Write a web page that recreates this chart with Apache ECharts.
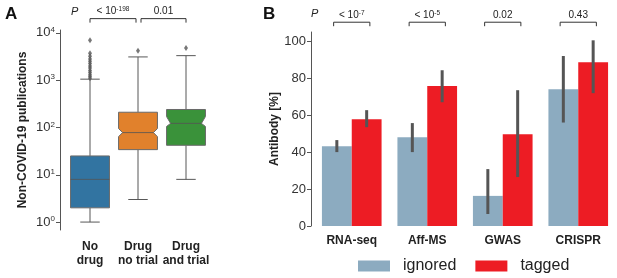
<!DOCTYPE html>
<html>
<head>
<meta charset="utf-8">
<script src="https://cdn.jsdelivr.net/npm/echarts@6/dist/echarts.min.js"></script>
<style>
  html, body { margin: 0; padding: 0; background: #fff; }
  #chart { width: 617px; height: 278px; }
</style>
</head>
<body>
<div id="chart"></div>
<script>
(function () {
  "use strict";
  const chart = echarts.init(document.getElementById("chart"));
  const FONT = "Liberation Sans, Arial, sans-serif";

  // Panel A: box plots (log scale)
  const groupsA = ["No\ndrug", "Drug\nno trial", "Drug\nand trial"];
  const colorsA = ["#3274a1", "#e1812c", "#3a923a"];
  // [low whisker, q1, median, q3, high whisker]
  const boxStats = [
    [1, 2, 8, 25, 1050],
    [3, 34, 78, 210, 3100],
    [8, 42, 122, 240, 3300],
  ];
  // notch limits [lo, hi] (null = no visible notch)
  const notches = [null, [64, 95], [105, 170]];
  const outliersA = [
    [1100, 1200, 1300, 1450, 1600, 1800, 2000, 2250, 2500, 2800, 3200, 3700, 7000],
    [4200],
    [4800],
  ];
  const ticksA = [1, 10, 100, 1000, 10000];
  const pLabelsA = [["< 10", "-198"], ["0.01", ""]];

  // Panel B: grouped bars with error bars
  const groupsB = ["RNA-seq", "Aff-MS", "GWAS", "CRISPR"];
  const ignored = [43.2, 48, 16.3, 74];
  const tagged = [57.8, 75.8, 49.7, 88.6];
  const ignoredErr = [[40, 46.5], [40, 55.7], [6.5, 30.8], [56, 92]];
  const taggedErr = [[53.5, 62.7], [67, 84.3], [26.5, 73.5], [71.9, 100.5]];
  const ticksB = [0, 20, 40, 60, 80, 100];
  const pLabelsB = [["< 10", "-7"], ["< 10", "-5"], ["0.02", ""], ["0.43", ""]];

  const BAR_FRAC = 0.395;

  function boxItem(params, api) {
    const i = api.value(0);
    const c = api.coord([i, api.value(1)]);
    const band = api.size([1, 1])[0];
    const w = band * 0.81;
    const l = c[0] - w / 2, r = c[0] + w / 2;
    const y = k => api.coord([i, api.value(k)])[1];
    const yLow = y(1), yQ1 = y(2), yMed = y(3), yQ3 = y(4), yHigh = y(5);
    const hasNotch = api.value(6) > 0;
    const d = hasNotch ? 4 : 0;
    const yNLo = hasNotch ? y(6) : yMed, yNHi = hasNotch ? y(7) : yMed;
    const pts = hasNotch
      ? [[l, yQ3], [r, yQ3], [r, yNHi], [r - d, yMed], [r, yNLo], [r, yQ1], [l, yQ1], [l, yNLo], [l + d, yMed], [l, yNHi]]
      : [[l, yQ3], [r, yQ3], [r, yQ1], [l, yQ1]];
    const line = { stroke: "#575757", lineWidth: 1 };
    const cap = w / 4;
    return {
      type: "group",
      children: [
        { type: "line", shape: { x1: c[0], y1: yQ3, x2: c[0], y2: yHigh }, style: line },
        { type: "line", shape: { x1: c[0], y1: yQ1, x2: c[0], y2: yLow }, style: line },
        { type: "line", shape: { x1: c[0] - cap, y1: yHigh, x2: c[0] + cap, y2: yHigh }, style: line },
        { type: "line", shape: { x1: c[0] - cap, y1: yLow, x2: c[0] + cap, y2: yLow }, style: line },
        { type: "polygon", shape: { points: pts }, style: { fill: colorsA[i], stroke: "#6a6a6a", lineWidth: 1 } },
        { type: "line", shape: { x1: l + d, y1: yMed, x2: r - d, y2: yMed }, style: { stroke: "#555", lineWidth: 1, opacity: 0.8 } },
      ],
    };
  }

  function bracketItem(shrinkL, shrinkR, span) {
    return function (params, api) {
      const a = api.value(0), b = api.value(1), lvl = api.value(2);
      const band = api.size([1, 1])[0];
      const pa = api.coord([a, lvl]), pb = api.coord([b, lvl]);
      let x1 = pa[0], x2 = pb[0];
      if (span) { x1 = pa[0] - band * span; x2 = pa[0] + band * span; }
      x1 += shrinkL[params.dataIndex] || 0;
      x2 -= shrinkR[params.dataIndex] || 0;
      const yb = pa[1];
      const st = { stroke: "#333", lineWidth: 1, fill: null };
      return {
        type: "group",
        children: [
          { type: "polyline", shape: { points: [[x1, yb + 4], [x1, yb], [x2, yb], [x2, yb + 4]] }, style: st },
          {
            type: "text", x: (x1 + x2) / 2, y: yb - 7,
            style: {
              text: api.value(3) ? `${api.value(3)}{s|${api.value(4) || ""}}` : "",
              rich: { s: { fontSize: 6.5, fontFamily: FONT, fill: "#222", verticalAlign: "top", padding: [0, 0, 5, 0] } },
              fontSize: 10, fontFamily: FONT, fill: "#222", align: "center", verticalAlign: "middle",
            },
          },
        ],
      };
    };
  }

  function errItem(side) {
    return function (params, api) {
      const i = api.value(0);
      const band = api.size([1, 1])[0];
      const off = side * band * BAR_FRAC / 2;
      const p1 = api.coord([i, api.value(1)]), p2 = api.coord([i, api.value(2)]);
      return {
        type: "line",
        shape: { x1: p1[0] + off, y1: p1[1], x2: p2[0] + off, y2: p2[1] },
        style: { stroke: "#555", lineWidth: 3 },
      };
    };
  }

  const boxData = boxStats.map((s, i) => [i, ...s, notches[i] ? notches[i][0] : 0, notches[i] ? notches[i][1] : 0]);
  const outlierData = [];
  outliersA.forEach((arr, i) => arr.forEach(v => outlierData.push([i, v])));

  const supFmt = v => `10{s|${Math.round(Math.log10(v))}}`;

  chart.setOption({
    animation: false,
    textStyle: { fontFamily: FONT },
    grid: [
      { left: 66, top: 30, width: 144, height: 200 },
      { left: 314, top: 32, width: 302, height: 194 },
    ],
    xAxis: [
      {
        gridIndex: 0, type: "category", data: groupsA,
        axisLine: { show: false }, axisTick: { show: false },
        axisLabel: { fontSize: 12, fontWeight: "bold", color: "#222", lineHeight: 14, margin: 10, interval: 0 },
      },
      {
        gridIndex: 1, type: "category", data: groupsB,
        axisLine: { show: false }, axisTick: { show: false },
        axisLabel: { fontSize: 12, fontWeight: "bold", color: "#222", margin: 9, interval: 0 },
      },
    ],
    yAxis: [
      {
        gridIndex: 0, type: "log", logBase: 10, min: 0.68, max: 11500, offset: 6,
        name: "Non-COVID-19 publications", nameLocation: "middle", nameGap: 31,
        nameTextStyle: { fontSize: 12, fontWeight: "bold", color: "#222" },
        axisLine: { show: true, lineStyle: { color: "#555", width: 1 } },
        axisTick: { show: true, length: 4, lineStyle: { color: "#555" }, customValues: ticksA },
        splitLine: { show: false },
        minorTick: { show: false },
        axisLabel: {
          fontSize: 13, color: "#333", margin: 5, customValues: ticksA, formatter: supFmt,
          rich: { s: { fontSize: 8, verticalAlign: "top", padding: [0, 0, 6, 0], color: "#333" } },
        },
      },
      {
        gridIndex: 1, type: "value", min: 0, max: 105, offset: 3,
        name: "Antibody [%]", nameLocation: "middle", nameGap: 30,
        nameTextStyle: { fontSize: 12, fontWeight: "bold", color: "#222" },
        axisLine: { show: true, lineStyle: { color: "#555", width: 1 } },
        axisTick: { show: true, length: 4, lineStyle: { color: "#555" }, customValues: ticksB },
        splitLine: { show: false },
        axisLabel: { fontSize: 13, color: "#333", margin: 5, customValues: ticksB },
      },
    ],
    legend: {
      data: ["ignored", "tagged"], left: 353, top: 253, icon: "rect",
      itemWidth: 32, itemHeight: 11, itemGap: 19,
      textStyle: { fontSize: 16, color: "#222", padding: [0, 0, 0, 8] },
    },
    graphic: [
      { type: "text", left: 5, top: 6, style: { text: "A", fontSize: 17, fontWeight: "bold", fill: "#111", fontFamily: FONT } },
      { type: "text", left: 263, top: 6, style: { text: "B", fontSize: 17, fontWeight: "bold", fill: "#111", fontFamily: FONT } },
      { type: "text", left: 71, top: 6, style: { text: "P", fontSize: 11, fontStyle: "italic", fill: "#222", fontFamily: FONT } },
      { type: "text", left: 311, top: 8, style: { text: "P", fontSize: 11, fontStyle: "italic", fill: "#222", fontFamily: FONT } },
    ],
    series: [
      {
        type: "custom", xAxisIndex: 0, yAxisIndex: 0, renderItem: boxItem,
        data: boxData, encode: { x: 0, y: [1, 5] }, z: 2,
      },
      {
        type: "scatter", xAxisIndex: 0, yAxisIndex: 0, data: outlierData,
        symbol: "diamond", symbolSize: [4, 6], itemStyle: { color: "#555" }, z: 3,
      },
      {
        type: "custom", xAxisIndex: 0, yAxisIndex: 0, clip: false,
        renderItem: bracketItem([0, 3], [2, 0], 0),
        data: pLabelsA.map((p, i) => [i, i + 1, 20000, p[0], p[1]]),
      },
      {
        name: "ignored", type: "bar", xAxisIndex: 1, yAxisIndex: 1, data: ignored,
        barWidth: (BAR_FRAC * 100) + "%", barGap: "0%", itemStyle: { color: "#8cabc0" },
      },
      {
        name: "tagged", type: "bar", xAxisIndex: 1, yAxisIndex: 1, data: tagged,
        barWidth: (BAR_FRAC * 100) + "%", barGap: "0%", itemStyle: { color: "#ed1c24" },
      },
      {
        type: "custom", xAxisIndex: 1, yAxisIndex: 1, renderItem: errItem(-1), z: 5,
        data: ignoredErr.map((e, i) => [i, e[0], e[1]]),
      },
      {
        type: "custom", xAxisIndex: 1, yAxisIndex: 1, renderItem: errItem(1), z: 5,
        data: taggedErr.map((e, i) => [i, e[0], e[1]]),
      },
      {
        type: "custom", xAxisIndex: 1, yAxisIndex: 1, clip: false,
        renderItem: bracketItem([], [], 0.24),
        data: pLabelsB.map((p, i) => [i, i, 110.3, p[0], p[1]]),
      },
    ],
  });

  window.addEventListener("resize", () => chart.resize());
})();
</script>
</body>
</html>
